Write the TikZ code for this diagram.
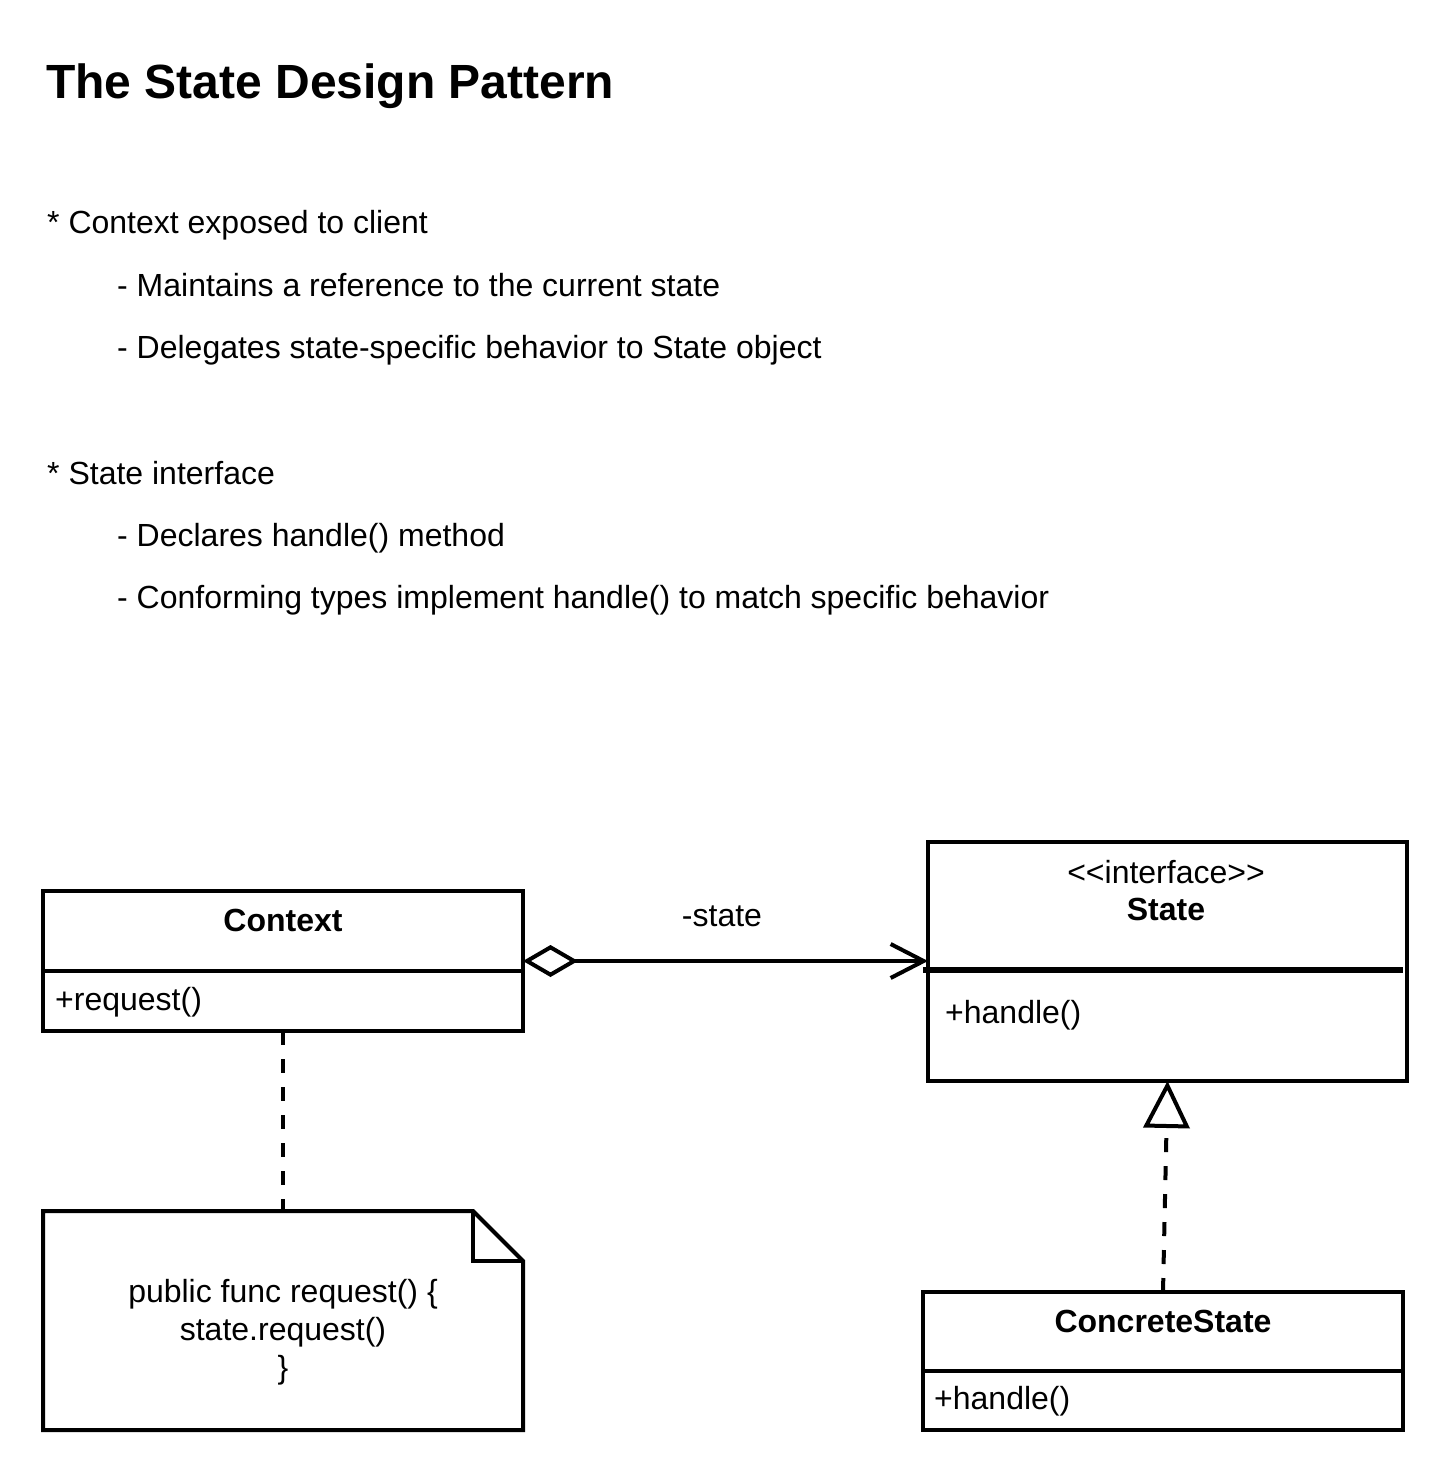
\documentclass[tikz,border=0pt]{standalone}
\usepackage{fontspec}
\setmainfont{Liberation Sans}
\usetikzlibrary{arrows.meta}
\tikzset{
  umlbox/.style={draw, line width=4pt, inner sep=0pt, outer sep=0pt, anchor=north west},
  txt/.style={inner sep=0pt, font=\fontsize{32}{38}\selectfont},
  btxt/.style={inner sep=0pt, font=\fontsize{32}{38}\selectfont\bfseries},
  ttl/.style={inner sep=0pt, font=\fontsize{48}{56}\selectfont\bfseries},
  dline/.style={line width=4pt, dash pattern=on 14pt off 14pt},
  divider/.style={line width=4pt}
}
\begin{document}
\begin{tikzpicture}[x=1pt,y=-1pt]
\useasboundingbox[fill=white] (0,0) rectangle (1448,1472);
% title and text
\node[ttl, anchor=base west] (title) at (46,98) {The State Design Pattern};
\node[txt, anchor=base west] (l1) at (47,233) {* Context exposed to client};
\node[txt, anchor=base west] (l2) at (117,296) {- Maintains a reference to the current state};
\node[txt, anchor=base west] (l3) at (117,358) {- Delegates state-specific behavior to State object};
\node[txt, anchor=base west] (l4) at (47,484) {* State interface};
\node[txt, anchor=base west] (l5) at (117,546) {- Declares handle() method};
\node[txt, anchor=base west] (l6) at (117,608) {- Conforming types implement handle() to match specific behavior};
% Context class
\node[umlbox, minimum width=480, minimum height=140] (ctx) at (43,891) {};
\draw[divider] (43,971) -- (523,971);
\node[btxt, anchor=base] (ctxname) at (283,931) {Context};
\node[txt, anchor=base west] (ctxop) at (55,1010) {+request()};
% State interface
\node[umlbox, minimum width=479, minimum height=239] (st) at (928,842) {};
\draw[line width=5.5pt] (923,970) -- (1403,970);
\node[txt, anchor=base] (stereo) at (1166,883) {<\kern0pt<interface>\kern0pt>};
\node[btxt, anchor=base] (stname) at (1166,920) {State};
\node[txt, anchor=base west] (stop) at (945,1023) {+handle()};
% ConcreteState
\node[umlbox, minimum width=480, minimum height=138] (cs) at (923,1292) {};
\draw[divider] (923,1371) -- (1403,1371);
\node[btxt, anchor=base] (csname) at (1163,1332) {ConcreteState};
\node[txt, anchor=base west] (csop) at (934,1409) {+handle()};
% Note
\node[inner sep=0pt, outer sep=0pt, minimum width=480, minimum height=219, anchor=north west] (note) at (43,1211) {};
\draw[line width=4pt, line join=miter] (note.north west) -- ([xshift=-50pt]note.north east) -- ([yshift=-50pt]note.north east) -- (note.south east) -- (note.south west) -- cycle;
\draw[line width=4pt, line join=miter] ([xshift=-50pt]note.north east) -- ([xshift=-50pt,yshift=-50pt]note.north east) -- ([yshift=-50pt]note.north east);
\node[txt, anchor=base] (n1) at (283,1302) {public func request() \{};
\node[txt, anchor=base] (n2) at (283,1340) {state.request()};
\node[txt, anchor=base] (n3) at (283,1378) {\}};
% connectors
\draw[line width=4pt, {Diamond[open,length=55pt,width=32pt]}-{Straight Barb[length=33pt,width=34pt]}] (ctx.east) -- (ctx.east -| st.west);
\node[txt, anchor=base] (lbl) at (722,926) {-state};
\draw[dline] (ctx.south) -- (ctx.south |- note.north);
\draw[dline, -{Triangle[open,length=47pt,width=46pt]}] (cs.north) -- (st.south);
\end{tikzpicture}
\end{document}
